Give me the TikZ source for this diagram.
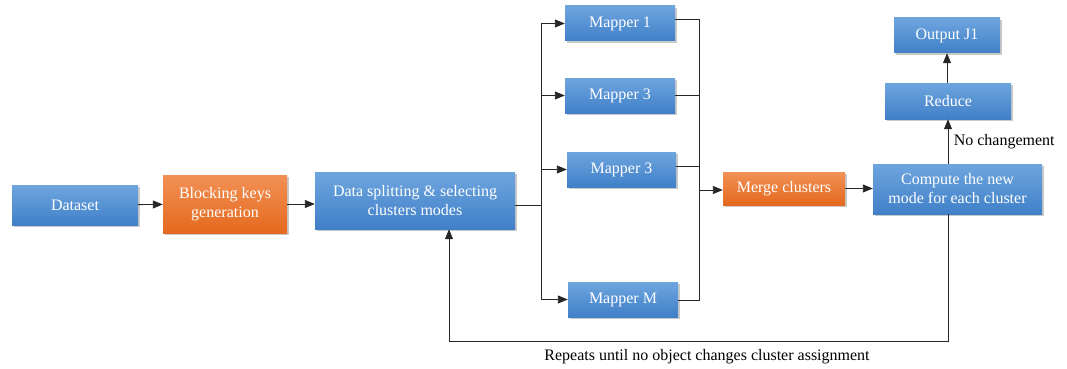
\documentclass[tikz,border=0pt]{standalone}
\usepackage{fontspec}
\setmainfont{Liberation Serif}
\usetikzlibrary{arrows.meta,shadows,calc}
\definecolor{btop}{RGB}{110,165,222}
\definecolor{bbot}{RGB}{64,128,200}
\definecolor{otop}{RGB}{242,145,85}
\definecolor{obot}{RGB}{228,105,30}
\tikzset{
  box/.style={draw=none, inner sep=0pt, align=center, text=white,
    font=\fontsize{16}{19}\selectfont,
    drop shadow={shadow xshift=1.5pt, shadow yshift=-2pt, opacity=0.35, fill=black!60}},
  bluebox/.style={box, top color=btop, bottom color=bbot},
  orangebox/.style={box, top color=otop, bottom color=obot},
  conn/.style={draw=black!85, line width=0.9pt},
  arr/.style={conn, -{Triangle[length=10pt,width=8pt]}},
  lbl/.style={font=\fontsize{16}{19}\selectfont, text=black}
}
\begin{document}
\begin{tikzpicture}[x=1pt,y=-1pt]
\useasboundingbox (0,0) rectangle (1067,369);
\node[bluebox, minimum width=126pt, minimum height=40pt] (ds) at (75,205) {Dataset};
\node[orangebox, minimum width=124pt, minimum height=58pt] (bk) at (225,204) {Blocking keys\\generation};
\node[bluebox, minimum width=200pt, minimum height=57pt] (sp) at (415,200.5) {Data splitting \& selecting\\clusters modes};
\node[bluebox, minimum width=110pt, minimum height=35pt] (m1) at (620,23.5) {Mapper 1};
\node[bluebox, minimum width=110pt, minimum height=35pt] (m2) at (620,95.5) {Mapper 3};
\node[bluebox, minimum width=109pt, minimum height=35pt] (m3) at (621.5,169.5) {Mapper 3};
\node[bluebox, minimum width=110pt, minimum height=35pt] (mm) at (623,299.5) {Mapper M};
\node[orangebox, minimum width=122pt, minimum height=33pt] (mg) at (784,188.5) {Merge clusters};
\node[bluebox, minimum width=169pt, minimum height=50pt] (cp) at (957.5,189) {Compute the new\\mode for each cluster};
\node[bluebox, minimum width=126pt, minimum height=36pt] (rd) at (948,101) {Reduce};
\node[bluebox, minimum width=106pt, minimum height=35pt] (oj) at (947,35.5) {Output J1};

\coordinate (lb) at (541,205);
\coordinate (rb) at (699,190);

\draw[arr] (ds) -- (bk);
\draw[arr] (bk.east) -- (sp.west |- bk.east);
\draw[conn] (sp.east |- lb) -- (lb);
\draw[conn] (lb |- m1) -- (lb |- mm);
\draw[arr] (lb |- m1) -- (m1.west);
\draw[arr] (lb |- m2) -- (m2.west);
\draw[arr] (lb |- m3) -- (m3.west);
\draw[arr] (lb |- mm) -- (mm.west);

\draw[conn] (m1.east |- 0,19) -- (rb |- 0,19) -- (rb |- 0,300) -- (mm.east |- 0,300);
\draw[conn] (m2.east) -- (rb |- m2);
\draw[conn] (m3.east |- 0,166) -- (rb |- 0,166);
\draw[arr] (rb) -- (mg.west |- rb);
\draw[arr] (mg.east) -- (cp.west |- mg.east);

\draw[arr] (cp.north -| 948,0) -- node[lbl, right, pos=0.5, xshift=2pt] {No changement} (rd.south -| 948,0);
\draw[arr] (rd.north -| 947,0) -- (oj.south -| 947,0);

\coordinate (lp1) at (948,341);
\coordinate (lp2) at (449,341);
\draw[arr] (cp.south -| lp1) -- (lp1) -- (lp2) -- (sp.south -| lp2);
\node[lbl] (rep) at (707,357) {Repeats until no object changes cluster assignment};
\end{tikzpicture}
\end{document}
